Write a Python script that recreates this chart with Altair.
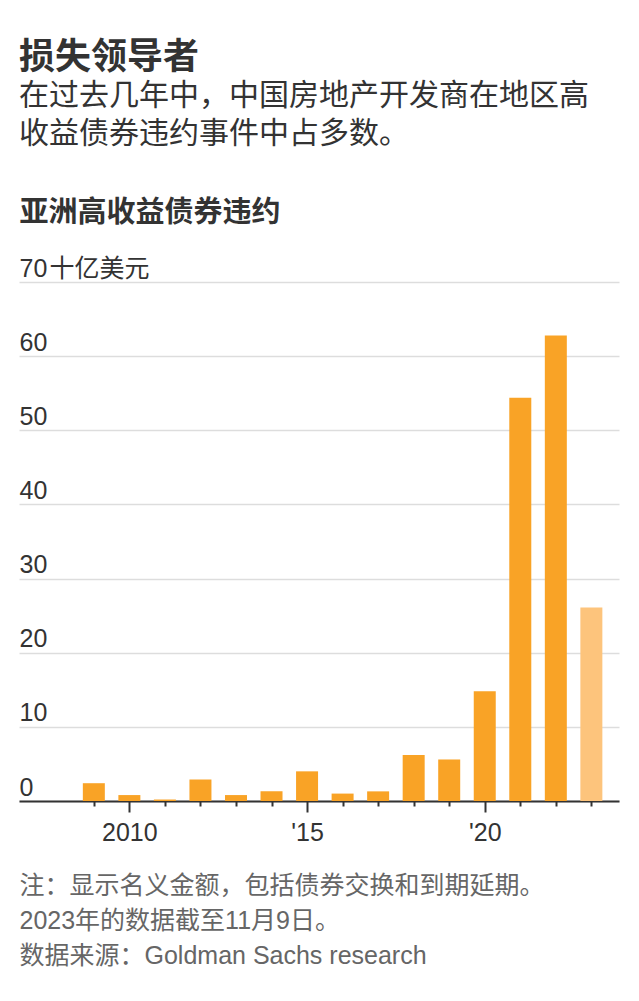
import altair as alt
import pandas as pd

# ---- data ----
years = [2009, 2010, 2011, 2012, 2013, 2014, 2015, 2016, 2017, 2018, 2019, 2020, 2021, 2022, 2023]
values = [2.4, 0.8, 0.2, 2.9, 0.8, 1.3, 4.0, 1.0, 1.3, 6.2, 5.6, 14.8, 54.4, 62.8, 26.1]
status = ["全年"] * 14 + ["截至11月9日"]

y_ticks = [0, 10, 20, 30, 40, 50, 60, 70]

title_text = "损失领导者"
subtitle_lines = ["在过去几年中，中国房地产开发商在地区高", "收益债券违约事件中占多数。"]
chart_label = "亚洲高收益债券违约"
footer_lines = [
    "注：显示名义金额，包括债券交换和到期延期。",
    "2023年的数据截至11月9日。",
    "数据来源：Goldman Sachs research",
]

df = pd.DataFrame({"year": years, "value": values, "status": status})

FONT = "Liberation Sans, Arial, Noto Sans CJK SC, sans-serif"
DARK = "#333333"

x_label_expr = (
    "datum.value == 2010 ? '2010' : datum.value == 2015 ? \"'15\" : "
    "datum.value == 2020 ? \"'20\" : ''"
)
y_label_expr = (
    "datum.value == 70 ? '70\u200a十亿美元' : datum.value == 0 ? '\u00a0\u00a00' : datum.label"
)

chart = (
    alt.Chart(df)
    .mark_bar(width=22)
    .encode(
        x=alt.X(
            "year:Q",
            scale=alt.Scale(domain=[2007.035, 2023.637], nice=False, zero=False),
            axis=alt.Axis(
                values=years,
                labelExpr=x_label_expr,
                tickSize={"condition": {"test": "datum.value % 5 === 0", "value": 11}, "value": 5},
                tickColor=DARK,
                tickWidth=2,
                domainColor=DARK,
                domainWidth=2,
                labelFontSize=25,
                labelColor=DARK,
                labelPadding=8,
                labelFlush=False,
                grid=False,
                title=footer_lines,
                titleAnchor="start",
                titleAlign="left",
                titleBaseline="top",
                titleX=0,
                titleY=72,
                titleFontSize=25,
                titleFontWeight="normal",
                titleColor="#666666",
                titleLineHeight=35,
            ),
        ),
        y=alt.Y(
            "value:Q",
            scale=alt.Scale(domain=[0, 70], nice=False),
            axis=alt.Axis(
                values=y_ticks,
                labelExpr=y_label_expr,
                labelAlign="left",
                labelBaseline="alphabetic",
                labelOffset=-6,
                labelPadding=0,
                ticks=False,
                tickSize=0,
                domain=False,
                grid=True,
                gridColor="#dddddd",
                gridWidth=1.5,
                labelFontSize=25,
                labelColor=DARK,
                title=chart_label,
                titleAngle=0,
                titleAnchor="start",
                titleAlign="left",
                titleBaseline="middle",
                titleX=0,
                titleY=-70,
                titleFontSize=29,
                titleFontWeight="bold",
                titleColor=DARK,
            ),
        ),
        color=alt.Color(
            "status:N",
            scale=alt.Scale(domain=["全年", "截至11月9日"], range=["#F9A326", "#FDC47C"]),
            legend=None,
        ),
    )
    .properties(
        width=600,
        height=519,
        title=alt.TitleParams(
            text=title_text,
            subtitle=subtitle_lines,
            anchor="start",
            frame="group",
            fontSize=36,
            fontWeight="bold",
            color=DARK,
            subtitleFontSize=30,
            subtitleColor=DARK,
            subtitleLineHeight=38,
            subtitlePadding=4,
            offset=48,
        ),
        padding={"left": 19, "right": 20, "top": 40, "bottom": 20},
    )
    .configure(font=FONT)
    .configure_view(stroke=None)
)

chart.save("out.html", embed_options={"renderer": "svg", "actions": False})
